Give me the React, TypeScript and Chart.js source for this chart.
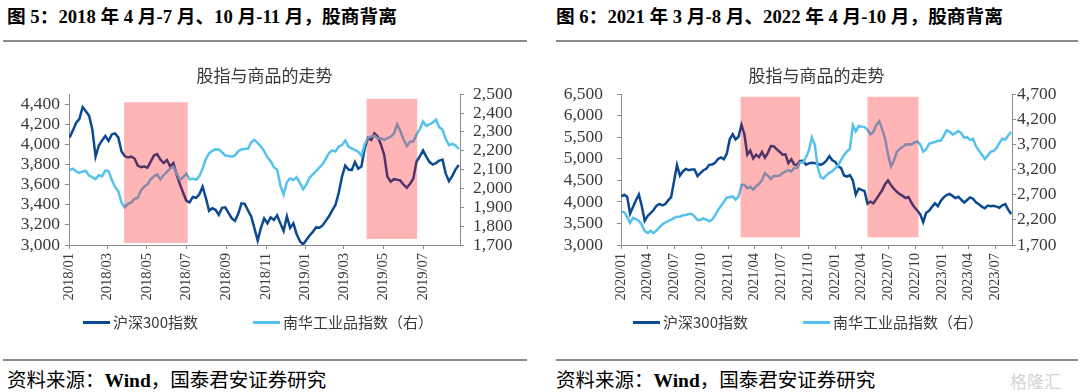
import React, { useEffect, useRef } from "react";
import { Chart, registerables } from "chart.js";

Chart.register(...registerables);

// ---------- shared look ----------
const DARK = "#0B4A92";
const LIGHT = "#55C2EE";
const BAND = "rgba(255, 0, 0, 0.29)";
const AXIS = "#8c8c8c";
const TEXT = "#3a3a3a";
const SERIF = "'Liberation Serif', 'Noto Sans CJK SC', serif";
const CJK = "'Noto Sans CJK SC', sans-serif";

const chartTitle = "股指与商品的走势";
const seriesNames = ["沪深300指数", "南华工业品指数（右）"];
const seriesColors = [DARK, LIGHT];

// ---------- Figure 5 data ----------
const fig5Title = "图 5：2018 年 4 月-7 月、10 月-11 月，股商背离";
const fig5Start = "2018-01-02";
const fig5StepDays = 5;
const fig5XRange = ["2018-01-01", "2019-08-27"];
const fig5XTicks = ["2018/01", "2018/03", "2018/05", "2018/07", "2018/09", "2018/11", "2019/01", "2019/03", "2019/05", "2019/07"];
const fig5Hs300 = [
  4070, 4140, 4215, 4255, 4370, 4330, 4285, 4150, 3880, 3990,
  4040, 4085, 4035, 4100, 4110, 4070, 3930, 3885, 3870, 3880,
  3860, 3790, 3775, 3780, 3768, 3830, 3890, 3905, 3850, 3815,
  3845, 3782, 3814, 3700, 3605, 3520, 3440, 3425, 3478, 3470,
  3505, 3580, 3470, 3340, 3365, 3350, 3300, 3370, 3375, 3320,
  3265, 3240, 3310, 3415, 3410, 3345, 3285, 3165, 3045, 3170,
  3265, 3215, 3275, 3250, 3295, 3215, 3140, 3285, 3170, 3215,
  3110, 3040, 3005, 3050, 3095, 3130, 3175, 3172, 3195, 3240,
  3285, 3345, 3400, 3520, 3680, 3790, 3750, 3745, 3825, 3760,
  3780, 3960, 4065, 4045, 4110, 4080, 4000, 3900, 3680, 3630,
  3655, 3650, 3640, 3600, 3570, 3610, 3660, 3830, 3880, 3940,
  3880, 3825, 3800, 3815, 3840, 3850, 3710, 3635, 3685, 3750,
  3795,
];
const fig5Nanhua = [
  2098, 2105, 2090, 2082, 2090, 2093, 2068, 2060, 2050, 2070,
  2065, 2095, 2092, 2045, 2008, 1985, 1925, 1900, 1918, 1925,
  1945, 1950, 1990, 2010, 2022, 2048, 2065, 2075, 2048, 2070,
  2088, 2106, 2115, 2080, 2046, 2060, 2078, 2048, 2052, 2046,
  2065, 2105, 2155, 2186, 2200, 2208, 2207, 2192, 2175, 2172,
  2168, 2175, 2198, 2207, 2210, 2210, 2245, 2258, 2240, 2222,
  2198, 2165, 2145, 2113, 2100, 2015, 1968, 2033, 2053, 2045,
  2060, 2030, 1995, 2020, 2058, 2075, 2092, 2110, 2128, 2157,
  2188, 2202, 2196, 2222, 2230, 2255, 2222, 2213, 2204, 2195,
  2172, 2235, 2268, 2276, 2280, 2265, 2266, 2258, 2266, 2275,
  2290, 2340, 2305, 2260, 2225, 2248, 2250, 2285, 2315, 2355,
  2332, 2340, 2350, 2365, 2325, 2312, 2262, 2230, 2237, 2229,
  2208,
];
const fig5BandFrom = ["2018-03-27", "2019-04-05"];
const fig5BandTo = ["2018-07-03", "2019-06-22"];
const fig5BandTop = [4420, 4453];
const fig5BandBottom = [3020, 3060];
const fig5LeftAxis = [3000, 4500, 200];
const fig5RightAxis = [1700, 2500, 100];

// ---------- Figure 6 data ----------
const fig6Title = "图 6：2021 年 3 月-8 月、2022 年 4 月-10 月，股商背离";
const fig6Start = "2020-01-02";
const fig6StepDays = 10;
const fig6XRange = ["2020-01-01", "2023-08-27"];
const fig6XTicks = ["2020/01", "2020/04", "2020/07", "2020/10", "2021/01", "2021/04", "2021/07", "2021/10", "2022/01", "2022/04", "2022/07", "2022/10", "2023/01", "2023/04", "2023/07"];
const fig6Hs300 = [
  4125, 4165, 4120, 3730, 3880, 4040, 4170, 3900, 3560, 3675,
  3742, 3811, 3910, 3955, 3918, 3950, 4035, 4110, 4480, 4854,
  4610, 4707, 4765, 4735, 4750, 4750, 4600, 4667, 4735, 4770,
  4860, 4870, 4907, 4995, 5032, 4990, 5120, 5455, 5570, 5450,
  5513, 5790, 5570, 5100, 5190, 5010, 5095, 5040, 5160, 5025,
  5135, 5295, 5290, 5225, 5165, 5095, 5105, 4900, 4990, 4870,
  4865, 4950, 4955, 4865, 4894, 4910, 4900, 4885, 4860, 4895,
  4960, 5060, 4965, 4930, 4825, 4785, 4615, 4588, 4620, 4500,
  4170, 4310, 4278, 4250, 3960, 4005, 3967, 4065, 4170, 4270,
  4410, 4500, 4390, 4305, 4235, 4180, 4140, 4090, 4115, 3980,
  3875, 3800, 3710, 3530, 3748, 3795, 3885, 3965, 3900, 4025,
  4105, 4160, 4185, 4140, 4090, 4120, 4050, 3985, 4045, 4105,
  4075, 3990, 3945, 3888, 3855, 3915, 3900, 3910, 3890, 3865,
  3920, 3950, 3820, 3720,
];
const fig6Nanhua = [
  2364, 2350, 2258, 2140, 2240, 2217, 2180, 2105, 1975, 1940,
  1983, 1935, 1985, 2050, 2108, 2148, 2177, 2206, 2236, 2264,
  2264, 2290, 2296, 2315, 2315, 2270, 2197, 2199, 2229, 2203,
  2173, 2205, 2290, 2400, 2477, 2560, 2645, 2650, 2670, 2603,
  2662, 2895, 2900, 2830, 2858, 2800, 2870, 2915, 2990, 3130,
  3080, 3015, 3075, 3075, 3080, 3130, 3160, 3188, 3164, 3230,
  3237, 3340, 3340, 3445, 3580, 3840, 3700, 3250, 3050, 3025,
  3090, 3135, 3168, 3226, 3286, 3395, 3490, 3560, 3610, 4080,
  3960, 4070, 4055, 4045, 3990, 3900, 3950, 4090, 4160, 4000,
  3820, 3505, 3260, 3375, 3550, 3615, 3648, 3700, 3705, 3702,
  3740, 3762, 3700, 3560, 3600, 3715, 3735, 3750, 3775, 3775,
  3870, 3980, 3958, 3900, 3925, 3970, 3920, 3832, 3845, 3787,
  3815, 3665, 3580, 3500, 3410, 3475, 3555, 3572, 3625, 3730,
  3815, 3795, 3880, 3950,
];
const fig6BandFrom = ["2021-02-12", "2022-04-21"];
const fig6BandTo = ["2021-09-03", "2022-10-12"];
const fig6BandTop = [6440, 6440];
const fig6BandBottom = [3178, 3178];
const fig6LeftAxis = [3000, 6500, 500];
const fig6RightAxis = [1700, 4700, 500];

// ---------- helpers ----------
const dayOf = (s: string) => {
  const [y, m, d] = s.replace(/\//g, "-").split("-").map(Number);
  return Date.UTC(y, m - 1, d || 1) / 86400000;
};
const fmt = (v: number) => Math.round(v).toLocaleString("en-US");

type PanelProps = {
  left: number;
  start: string;
  step: number;
  xRange: string[];
  xTicks: string[];
  hs300: number[];
  nanhua: number[];
  bandFrom: string[];
  bandTo: string[];
  bandTop: number[];
  bandBottom: number[];
  leftAxis: number[];
  rightAxis: number[];
  yWidth: number;
  y1Width: number;
  yPad: number;
  y1Pad: number;
  legendX: number[];
};

const CANVAS_TOP = 55;
const CANVAS_H = 260;

function Panel(p: PanelProps) {
  const ref = useRef<HTMLCanvasElement>(null);
  useEffect(() => {
    const s0 = dayOf(p.start);
    const bandPlugin = {
      id: "bands",
      afterDatasetsDraw(chart: any) {
        const { ctx } = chart;
        const xs = chart.scales.x;
        const ys = chart.scales.y;
        ctx.save();
        ctx.fillStyle = BAND;
        p.bandFrom.forEach((f, i) => {
          const x1 = xs.getPixelForValue(dayOf(f));
          const x2 = xs.getPixelForValue(dayOf(p.bandTo[i]));
          const y1 = ys.getPixelForValue(p.bandTop[i]);
          const y2 = ys.getPixelForValue(p.bandBottom[i]);
          ctx.fillRect(x1, y1, x2 - x1, y2 - y1);
        });
        ctx.restore();
      },
    };
    const stepTicks = (axis: number[]) => (scale: any) => {
      const out: any[] = [];
      for (let v = axis[0]; v <= axis[1] + 1e-6; v += axis[2]) out.push({ value: v });
      scale.ticks = out;
    };
    const tickFont = { family: SERIF, size: 17.5 };
    const chart = new Chart(ref.current as HTMLCanvasElement, {
      type: "line",
      data: {
        datasets: [
          {
            label: seriesNames[0],
            data: p.hs300.map((v, i) => ({ x: s0 + i * p.step, y: v })),
            yAxisID: "y",
            borderColor: seriesColors[0],
            backgroundColor: seriesColors[0],
            borderWidth: 2.5,
            pointRadius: 0,
            order: 2,
          },
          {
            label: seriesNames[1],
            data: p.nanhua.map((v, i) => ({ x: s0 + i * p.step, y: v })),
            yAxisID: "y1",
            borderColor: seriesColors[1],
            backgroundColor: seriesColors[1],
            borderWidth: 2.5,
            pointRadius: 0,
            order: 1,
          },
        ],
      },
      options: {
        animation: false,
        responsive: false,
        events: [],
        layout: { padding: { left: 0, right: 0, top: 0, bottom: 10 } },
        plugins: {
          tooltip: { enabled: false },
          legend: { display: false },
          title: {
            display: true,
            text: chartTitle,
            fullSize: false,
            color: TEXT,
            font: { family: CJK, size: 17, weight: "normal" },
            padding: { top: 10, bottom: 8.8 },
          },
        },
        scales: {
          x: {
            type: "linear",
            min: dayOf(p.xRange[0]),
            max: dayOf(p.xRange[1]),
            afterBuildTicks: (scale: any) => {
              scale.ticks = p.xTicks.map((t) => ({ value: dayOf(t) }));
            },
            afterFit: (scale: any) => {
              scale.height = 60;
            },
            ticks: {
              autoSkip: false,
              minRotation: 90,
              maxRotation: 90,
              padding: 4,
              color: TEXT,
              font: { family: SERIF, size: 14.5 },
              callback: (_v: any, i: number) => p.xTicks[i],
            },
            grid: { drawOnChartArea: false, tickLength: 4, color: AXIS },
            border: { color: AXIS },
          },
          y: {
            position: "left",
            min: p.leftAxis[0],
            max: p.leftAxis[1],
            afterBuildTicks: stepTicks(p.leftAxis),
            afterFit: (scale: any) => {
              scale.width = p.yWidth;
            },
            ticks: { autoSkip: false, padding: p.yPad, color: TEXT, font: tickFont, callback: (v: any) => fmt(v) },
            grid: { drawOnChartArea: false, tickLength: 4, color: AXIS },
            border: { color: AXIS },
          },
          y1: {
            position: "right",
            min: p.rightAxis[0],
            max: p.rightAxis[1],
            afterBuildTicks: stepTicks(p.rightAxis),
            afterFit: (scale: any) => {
              scale.width = p.y1Width;
            },
            ticks: { autoSkip: false, padding: p.y1Pad, color: TEXT, font: tickFont, callback: (v: any) => fmt(v) },
            grid: { drawOnChartArea: false, tickLength: 4, color: AXIS },
            border: { color: AXIS },
          },
        },
      } as any,
      plugins: [bandPlugin],
    });
    return () => chart.destroy();
  }, []);
  return (
    <>
      <canvas
        ref={ref}
        width={540}
        height={CANVAS_H}
        style={{ position: "absolute", left: p.left, top: CANVAS_TOP, width: 540, height: CANVAS_H }}
      />
      {seriesNames.map((name, i) => (
        <React.Fragment key={name}>
          <div
            style={{
              position: "absolute",
              left: p.legendX[i],
              top: 321,
              width: 27,
              height: 3,
              background: seriesColors[i],
            }}
          />
          <div
            style={{
              position: "absolute",
              left: p.legendX[i] + 30,
              top: 312,
              fontFamily: CJK,
              fontSize: 15,
              lineHeight: "20px",
              color: TEXT,
              whiteSpace: "nowrap",
            }}
          >
            {name}
          </div>
        </React.Fragment>
      ))}
    </>
  );
}

const rule = (left: number, top: number, width: number) => (
  <div style={{ position: "absolute", left, top, width, height: 2, background: "#8a8a8a" }} />
);

const titleStyle = (left: number): React.CSSProperties => ({
  position: "absolute",
  left,
  top: 5,
  fontFamily: SERIF,
  fontWeight: "bold",
  fontSize: 18.7,
  color: "#000",
  whiteSpace: "nowrap",
  lineHeight: "24px",
});

const sourceStyle = (left: number): React.CSSProperties => ({
  position: "absolute",
  left,
  top: 366,
  fontFamily: SERIF,
  fontSize: 19.5,
  color: "#000",
  whiteSpace: "nowrap",
  lineHeight: "26px",
});

function Source({ left }: { left: number }) {
  return (
    <div style={sourceStyle(left)}>
      <span style={{ fontFamily: CJK }}>资料来源：</span>
      <b>Wind</b>
      <span style={{ fontFamily: CJK }}>，国泰君安证券研究</span>
    </div>
  );
}

export default function App() {
  return (
    <div
      style={{
        position: "fixed",
        left: 0,
        top: 0,
        width: 1080,
        height: 392,
        background: "#fff",
        overflow: "hidden",
      }}
    >
      <div style={titleStyle(7)}>{fig5Title}</div>
      <div style={titleStyle(556)}>{fig6Title}</div>
      {rule(3, 40, 524)}
      {rule(556, 40, 522)}
      <Panel
        left={0}
        start={fig5Start}
        step={fig5StepDays}
        xRange={fig5XRange}
        xTicks={fig5XTicks}
        hs300={fig5Hs300}
        nanhua={fig5Nanhua}
        bandFrom={fig5BandFrom}
        bandTo={fig5BandTo}
        bandTop={fig5BandTop}
        bandBottom={fig5BandBottom}
        leftAxis={fig5LeftAxis}
        rightAxis={fig5RightAxis}
        yWidth={69}
        y1Width={80}
        yPad={5}
        y1Pad={9}
        legendX={[83, 253]}
      />
      <Panel
        left={540}
        start={fig6Start}
        step={fig6StepDays}
        xRange={fig6XRange}
        xTicks={fig6XTicks}
        hs300={fig6Hs300}
        nanhua={fig6Nanhua}
        bandFrom={fig6BandFrom}
        bandTo={fig6BandTo}
        bandTop={fig6BandTop}
        bandBottom={fig6BandBottom}
        leftAxis={fig6LeftAxis}
        rightAxis={fig6RightAxis}
        yWidth={81}
        y1Width={68}
        yPad={14}
        y1Pad={1}
        legendX={[633, 803]}
      />
      {rule(3, 359, 524)}
      {rule(556, 359, 522)}
      <Source left={7} />
      <Source left={556} />
      <div
        style={{
          position: "absolute",
          left: 1010,
          top: 368,
          fontFamily: CJK,
          fontSize: 17,
          color: "#d4d4d4",
          whiteSpace: "nowrap",
        }}
      >
        格隆汇
      </div>
    </div>
  );
}
